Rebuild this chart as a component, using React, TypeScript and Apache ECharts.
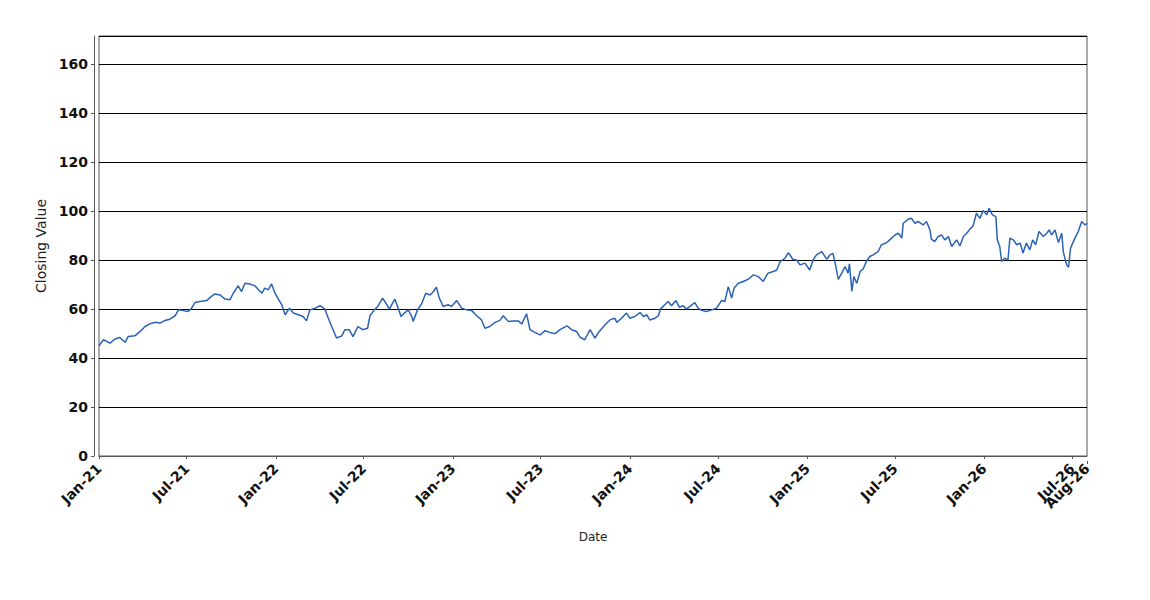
import React, { useEffect, useRef } from "react";
import * as echarts from "echarts";

const dates: string[] = [
  "2021-01-01","2021-01-10","2021-01-24","2021-02-03","2021-02-13","2021-02-24","2021-03-02","2021-03-16","2021-03-27","2021-04-06",
  "2021-04-16","2021-04-27","2021-05-07","2021-05-17","2021-05-27","2021-06-07","2021-06-14","2021-06-24","2021-07-04","2021-07-11",
  "2021-07-18","2021-07-28","2021-08-11","2021-08-21","2021-08-28","2021-09-08","2021-09-18","2021-09-28","2021-10-05","2021-10-15",
  "2021-10-22","2021-10-29","2021-11-08","2021-11-19","2021-11-26","2021-12-03","2021-12-09","2021-12-16","2021-12-23","2021-12-30",
  "2022-01-06","2022-01-13","2022-01-20","2022-01-29","2022-02-06","2022-02-16","2022-02-26","2022-03-05","2022-03-12","2022-03-23",
  "2022-04-02","2022-04-12","2022-04-19","2022-04-26","2022-05-06","2022-05-17","2022-05-23","2022-06-01","2022-06-09","2022-06-19",
  "2022-06-29","2022-07-09","2022-07-14","2022-07-23","2022-07-30","2022-08-09","2022-08-16","2022-08-23","2022-09-03","2022-09-09",
  "2022-09-16","2022-09-23","2022-10-01","2022-10-08","2022-10-11","2022-10-20","2022-10-29","2022-11-06","2022-11-15","2022-11-22",
  "2022-11-28","2022-12-04","2022-12-12","2022-12-22","2022-12-29",
  "2023-01-09","2023-01-19","2023-01-29","2023-02-09","2023-02-19","2023-03-01","2023-03-08","2023-03-18","2023-03-29","2023-04-08",
  "2023-04-15","2023-04-25","2023-05-05","2023-05-16","2023-05-23","2023-06-02","2023-06-09","2023-06-19","2023-06-30","2023-07-10",
  "2023-07-20","2023-07-31","2023-08-10","2023-08-24","2023-09-03","2023-09-13","2023-09-20","2023-09-30","2023-10-11","2023-10-21",
  "2023-10-30","2023-11-11","2023-11-21","2023-12-01","2023-12-05","2023-12-15","2023-12-25",
  "2024-01-01","2024-01-11","2024-01-22","2024-01-29","2024-02-05","2024-02-11","2024-02-22","2024-02-29","2024-03-04","2024-03-13",
  "2024-03-20","2024-03-27","2024-04-05","2024-04-12","2024-04-20","2024-04-27","2024-05-04","2024-05-14","2024-05-21","2024-05-28",
  "2024-06-07","2024-06-18","2024-06-28","2024-07-08","2024-07-15","2024-07-22","2024-07-29","2024-08-03","2024-08-12","2024-08-22",
  "2024-09-01","2024-09-12","2024-09-22","2024-10-02","2024-10-12","2024-10-23","2024-10-30","2024-11-06","2024-11-16","2024-11-23",
  "2024-12-02","2024-12-10","2024-12-17","2024-12-27",
  "2025-01-06","2025-01-13","2025-01-20","2025-01-31","2025-02-10","2025-02-17","2025-02-23","2025-03-01","2025-03-06","2025-03-13",
  "2025-03-20","2025-03-26","2025-03-29","2025-04-03","2025-04-07","2025-04-13","2025-04-20","2025-04-26","2025-05-03","2025-05-10",
  "2025-05-17","2025-05-27","2025-06-03","2025-06-14","2025-06-20","2025-07-01","2025-07-08","2025-07-15","2025-07-18","2025-07-28",
  "2025-08-04","2025-08-11","2025-08-18","2025-08-28","2025-09-04","2025-09-11","2025-09-14","2025-09-21","2025-09-28","2025-10-05",
  "2025-10-12","2025-10-19","2025-10-26","2025-11-05","2025-11-12","2025-11-19","2025-11-26","2025-12-02","2025-12-09","2025-12-16",
  "2025-12-23","2025-12-30",
  "2026-01-06","2026-01-11","2026-01-18","2026-01-25","2026-01-28","2026-02-02","2026-02-06","2026-02-12","2026-02-19","2026-02-23",
  "2026-03-02","2026-03-09","2026-03-16","2026-03-22","2026-03-29","2026-04-05","2026-04-11","2026-04-17","2026-04-24","2026-05-03",
  "2026-05-10","2026-05-15","2026-05-20","2026-05-27","2026-06-03","2026-06-10","2026-06-13","2026-06-20","2026-06-24","2026-06-28",
  "2026-07-07","2026-07-14","2026-07-21","2026-07-28","2026-08-01",
];

const closingValues: number[] = [
  45.0,47.5,46.1,47.8,48.4,46.4,48.8,49.1,50.9,52.9,
  54.0,54.6,54.3,55.4,55.9,57.3,59.7,59.4,59.0,60.4,
  62.7,63.1,63.5,65.2,66.2,65.8,64.1,63.8,66.5,69.5,
  67.2,70.6,70.3,69.5,67.9,66.5,68.6,67.9,70.3,66.5,
  64.1,61.8,57.7,60.4,58.4,57.7,57.0,55.2,59.7,60.4,
  61.4,60.0,56.3,52.9,48.2,49.1,51.6,51.6,48.8,52.9,
  51.6,52.2,57.3,59.7,61.1,64.5,62.4,60.0,64.1,61.1,
  57.0,58.4,59.7,57.0,55.0,59.7,62.4,66.5,65.8,67.2,
  69.0,64.5,61.1,61.8,61.1,
  63.5,60.4,59.7,59.4,57.3,55.6,52.2,52.9,54.6,55.4,
  57.3,55.0,55.2,55.2,53.9,58.1,51.6,50.5,49.5,51.2,
  50.5,50.0,51.6,53.2,51.6,50.9,48.6,47.5,51.6,48.2,
  50.9,53.6,55.6,56.3,54.6,56.3,58.4,
  56.3,57.0,58.6,57.0,57.7,55.6,56.3,57.3,60.0,61.8,
  63.1,61.4,63.5,60.8,61.4,60.0,61.1,62.7,60.4,59.5,
  59.0,59.7,60.4,63.5,63.1,69.2,64.5,68.6,70.6,71.3,
  72.2,74.0,73.3,71.3,74.7,75.4,76.0,79.4,80.8,83.1,
  80.4,80.1,78.1,78.8,
  76.0,80.1,82.2,83.5,80.4,82.2,82.8,77.4,72.2,74.7,
  77.4,74.7,78.5,67.2,73.3,70.6,75.4,76.3,79.5,81.5,
  82.2,83.5,86.3,87.2,88.3,90.3,91.0,89.0,95.1,96.7,
  97.1,95.1,95.8,94.4,95.8,92.4,88.6,87.6,89.7,90.3,
  88.3,89.7,85.6,88.3,85.8,89.7,91.0,92.6,94.0,99.2,
  97.1,100.3,
  98.5,101.2,98.5,97.8,88.3,85.6,79.5,80.8,80.1,89.0,
  88.3,86.3,87.0,82.9,87.0,84.2,88.3,86.3,91.7,89.7,
  91.0,92.4,90.3,92.4,87.2,91.0,83.5,78.1,77.1,84.9,
  89.0,91.7,95.8,94.4,95.1,
];

// Regular half-year ticks, and the final end-of-range tick
const xTickDates: string[] = [
  "2021-01-01","2021-07-01","2022-01-01","2022-07-01","2023-01-01","2023-07-01",
  "2024-01-01","2024-07-01","2025-01-01","2025-07-01","2026-01-01","2026-07-01",
];
const xEndTickDates: string[] = ["2026-08-01"];
const monthNames: string[] = ["Jan","Feb","Mar","Apr","May","Jun","Jul","Aug","Sep","Oct","Nov","Dec"];

const xMin = "2021-01-01";
const xMax = "2026-08-01";
const yMin = 0;
const yMax = 171.6;
const yInterval = 20;

const ts = (d: string) => Date.parse(d + "T00:00:00Z");

export default function App() {
  const ref = useRef<HTMLDivElement>(null);
  useEffect(() => {
    document.body.style.margin = "0";
    if (!ref.current) return;
    const chart = echarts.init(ref.current, undefined, { renderer: "svg" });
    const seriesData = dates.map((d, i) => [ts(d), closingValues[i]]);
    const tickTs = xTickDates.map(ts);
    const endTickTs = xEndTickDates.map(ts);
    const font = "DejaVu Sans";
    const fmt = (v: number) => {
      const dt = new Date(v);
      return monthNames[dt.getUTCMonth()] + "-" + String(dt.getUTCFullYear()).slice(2);
    };
    const labelBase = {
      showMinLabel: true,
      showMaxLabel: true,
      hideOverlap: false,
      rotate: 45,
      margin: 5,
      fontFamily: font,
      fontSize: 14,
      fontWeight: "bold",
      color: "#111",
      formatter: fmt,
    };
    chart.setOption({
      animation: false,
      backgroundColor: "#ffffff",
      grid: {
        left: 99,
        right: 63,
        top: 36,
        bottom: 144,
        show: true,
        borderColor: "#555555",
        borderWidth: 1,
        backgroundColor: "#ffffff",
      },
      xAxis: [
        {
          type: "value",
          position: "bottom",
          min: ts(xMin),
          max: ts(xMax),
          offset: 5,
          name: "Date",
          nameLocation: "middle",
          nameGap: 70,
          nameTextStyle: { fontFamily: font, fontSize: 12, color: "#222" },
          axisLine: { show: true, lineStyle: { color: "#555555", width: 1 } },
          axisTick: { show: true, length: 3, lineStyle: { color: "#555555" }, customValues: tickTs },
          splitLine: { show: false },
          axisLabel: { ...labelBase, customValues: tickTs },
        },
        {
          type: "value",
          position: "bottom",
          min: ts(xMin),
          max: ts(xMax),
          offset: 5,
          axisLine: { show: false },
          axisTick: { show: true, length: 3, lineStyle: { color: "#555555" }, customValues: endTickTs },
          splitLine: { show: false },
          axisLabel: { ...labelBase, customValues: endTickTs },
        },
      ],
      yAxis: {
        type: "value",
        min: yMin,
        max: yMax,
        interval: yInterval,
        offset: 5,
        name: "Closing Value",
        nameLocation: "middle",
        nameGap: 40,
        nameTextStyle: { fontFamily: font, fontSize: 14, color: "#222" },
        axisLine: { show: true, lineStyle: { color: "#555555", width: 1 } },
        axisTick: { show: true, length: 3, lineStyle: { color: "#555555" } },
        splitLine: { show: true, lineStyle: { color: "#000000", width: 1 } },
        axisLabel: {
          showMaxLabel: false,
          margin: 6,
          fontFamily: font,
          fontSize: 14,
          fontWeight: "bold",
          color: "#111",
        },
      },
      series: [
        {
          type: "line",
          xAxisIndex: 0,
          data: seriesData,
          showSymbol: false,
          symbol: "none",
          lineStyle: { color: "#2a62b5", width: 1.5 },
          clip: true,
        },
      ],
    });
    return () => chart.dispose();
  }, []);
  return <div ref={ref} style={{ width: 1150, height: 600 }} />;
}
